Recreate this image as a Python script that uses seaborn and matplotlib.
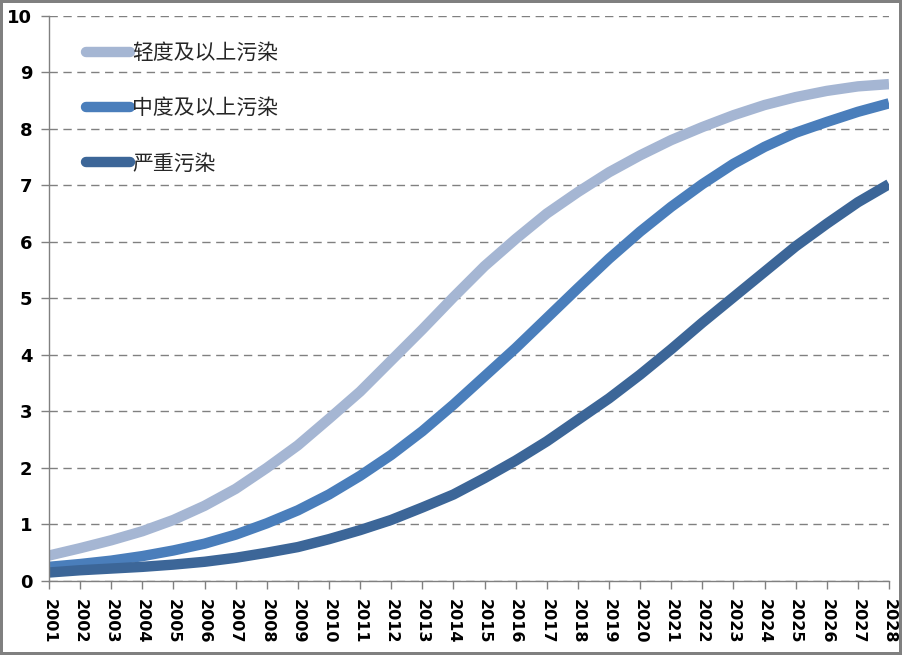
import numpy as np
import pandas as pd
import matplotlib.pyplot as plt
import seaborn as sns

# datos
years = list(range(2001, 2029))
qingdu = [0.45, 0.58, 0.72, 0.88, 1.08, 1.33, 1.63, 2.0, 2.4, 2.87,
          3.35, 3.9, 4.45, 5.02, 5.57, 6.05, 6.5, 6.88, 7.23, 7.53,
          7.8, 8.03, 8.24, 8.42, 8.56, 8.67, 8.75, 8.79]
zhongdu = [0.25, 0.3, 0.36, 0.44, 0.54, 0.66, 0.82, 1.02, 1.25, 1.53,
           1.86, 2.23, 2.65, 3.12, 3.62, 4.12, 4.65, 5.18, 5.7, 6.18,
           6.62, 7.02, 7.38, 7.68, 7.93, 8.12, 8.3, 8.45]
yanzhong = [0.15, 0.19, 0.22, 0.25, 0.29, 0.34, 0.41, 0.5, 0.6, 0.74,
            0.9, 1.08, 1.3, 1.53, 1.82, 2.13, 2.47, 2.85, 3.23, 3.65,
            4.1, 4.57, 5.02, 5.47, 5.92, 6.32, 6.7, 7.02]
series = ['轻度及以上污染', '中度及以上污染', '严重污染']
colores = ['#A5B6D3', '#4A7EBB', '#3C6698']

df = pd.DataFrame({'year': years * 3,
                   'value': qingdu + zhongdu + yanzhong,
                   'serie': [series[0]] * 28 + [series[1]] * 28 + [series[2]] * 28})

sns.set_style('white')
plt.rcParams['font.family'] = ['Noto Sans CJK SC', 'DejaVu Sans']

fig = plt.figure(figsize=(9.02, 6.55), dpi=100, linewidth=3, edgecolor='#808080')
ax = fig.add_axes([0.0543, 0.113, 0.9313, 0.863])

sns.lineplot(data=df, x='year', y='value', hue='serie', palette=colores,
             hue_order=series, linewidth=7.5, ax=ax, legend=True)
for l in ax.lines:
    l.set_solid_capstyle('butt')

ax.set_xlim(2001, 2028)
ax.set_ylim(0, 10)
ax.set_xticks(years)
ax.set_xticklabels([str(y) for y in years], rotation=-90, fontweight='heavy',
                   fontsize=11.5, family='DejaVu Sans')
ax.set_yticks(range(0, 11))
ax.set_yticklabels([str(i) for i in range(0, 11)], fontweight='heavy',
                   fontsize=13, family='DejaVu Sans')
ax.yaxis.grid(True, linestyle=(0, (6, 4)), color='#808080', linewidth=1)
ax.set_axisbelow(True)
ax.set_xlabel('')
ax.set_ylabel('')

for s in ['top', 'right']:
    ax.spines[s].set_visible(False)
for s in ['left', 'bottom']:
    ax.spines[s].set_color('#808080')
    ax.spines[s].set_linewidth(1)
ax.tick_params(axis='both', direction='out', length=6, color='#808080', width=1,
               labelcolor='black')
ax.tick_params(axis='x', bottom=True, pad=7)
ax.tick_params(axis='y', left=True, pad=6)

leg = ax.legend(loc='upper left', bbox_to_anchor=(0.022, 0.987), frameon=False,
                fontsize=15, handlelength=2.1, handletextpad=0.1, labelspacing=1.6)
for h in leg.get_lines():
    h.set_linewidth(7.5)
    h.set_solid_capstyle('round')

fig.savefig('out.png', dpi=100)
